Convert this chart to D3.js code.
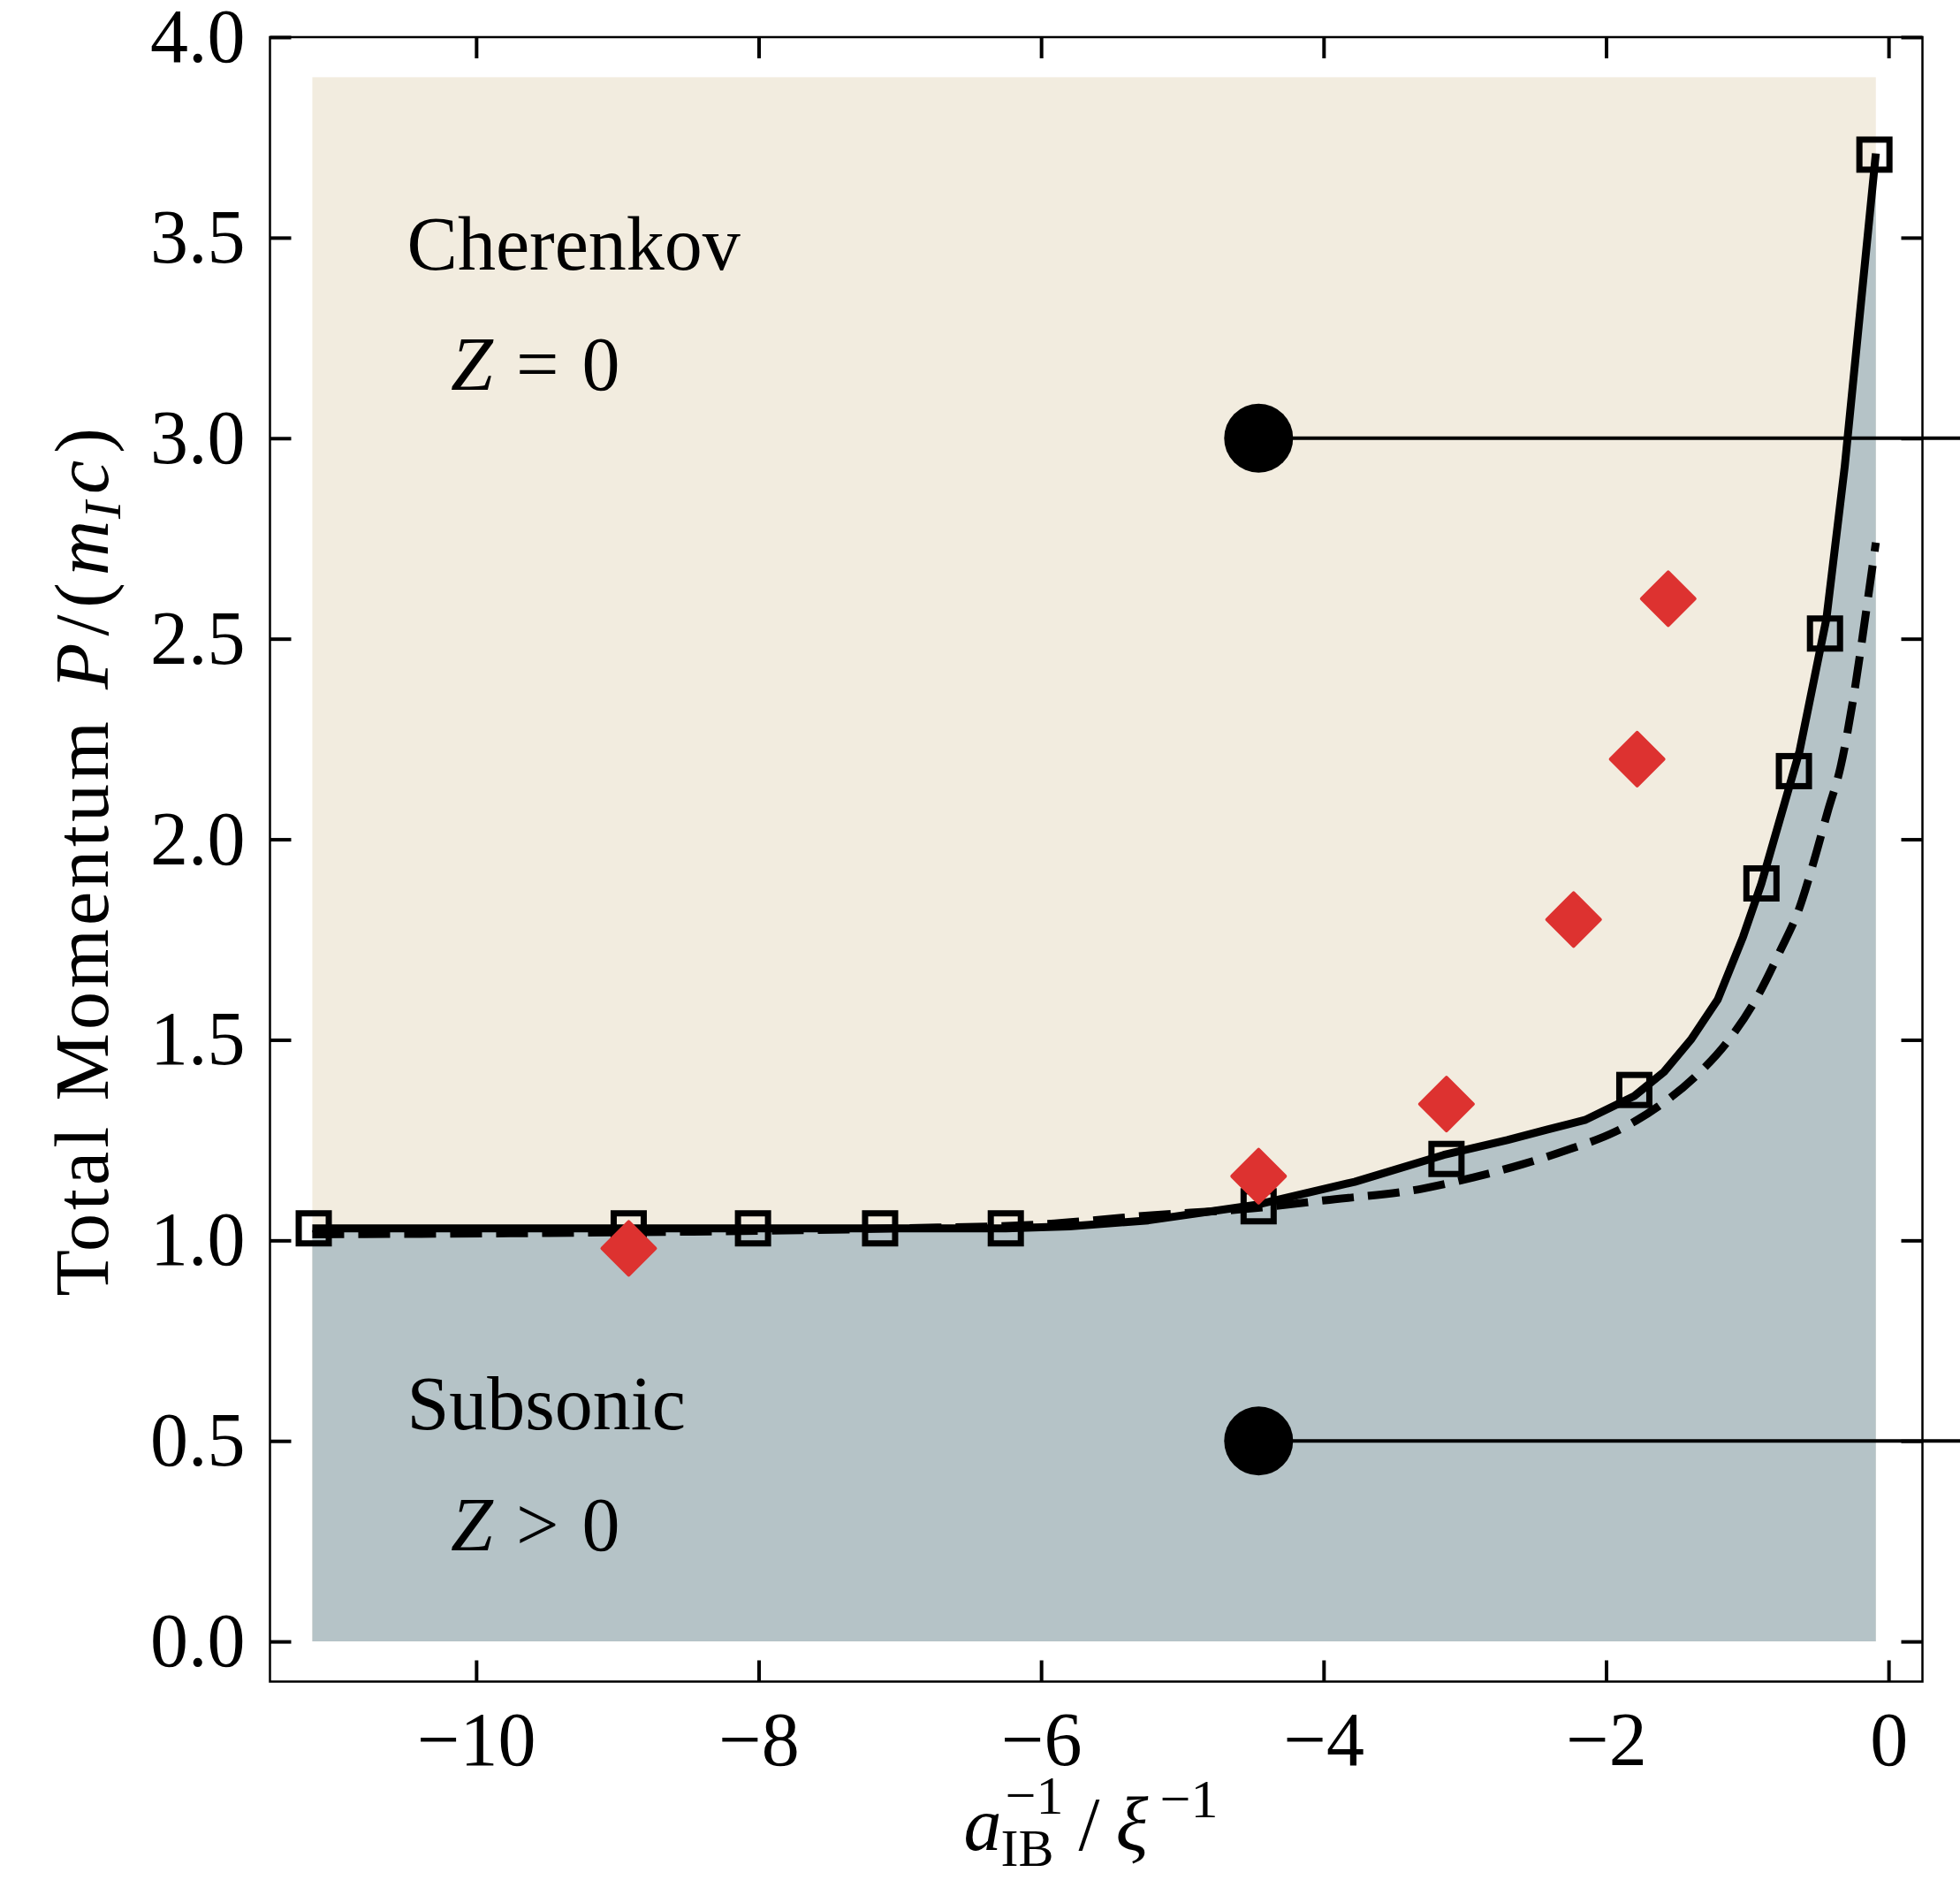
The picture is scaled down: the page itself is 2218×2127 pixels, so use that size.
<!DOCTYPE html>
<html>
<head>
<meta charset="utf-8">
<script src="https://cdn.jsdelivr.net/npm/d3@7"></script>
<style>
  html, body { margin: 0; padding: 0; background: #fff; }
  svg { display: block; }
</style>
</head>
<body>
<div id="chart"></div>
<script>
// boundary curve (solid) and approximation (dashed)
const solidX = [-11.16, -10, -9, -8, -7, -6.25, -5.8, -5.24, -4.47, -3.78, -3.15, -2.7, -2.42, -2.15, -1.80, -1.59, -1.40, -1.21, -1.03, -0.90, -0.63, -0.44, -0.31, -0.09];
const solidY = [1.03, 1.03, 1.03, 1.03, 1.03, 1.03, 1.035, 1.05, 1.089, 1.146, 1.213, 1.25, 1.276, 1.30, 1.36, 1.42, 1.50, 1.60, 1.757, 1.89, 2.22, 2.55, 2.93, 3.71];

const dashX = [-11.16, -9, -7, -6, -5.24, -4.5, -3.99, -3.30, -2.94, -2.59, -2.27, -1.94, -1.63, -1.36, -1.13, -0.93, -0.77, -0.63, -0.525, -0.43, -0.34, -0.25, -0.15, -0.09];
const dashY = [1.015, 1.02, 1.03, 1.04, 1.062, 1.08, 1.10, 1.129, 1.157, 1.19, 1.226, 1.27, 1.334, 1.411, 1.50, 1.607, 1.72, 1.83, 1.95, 2.07, 2.18, 2.35, 2.59, 2.74];

// open squares
const squareX = [-11.15, -8.92, -8.04, -7.14, -6.25, -4.46, -3.13, -1.80, -0.90, -0.67, -0.45, -0.10];
const squareY = [1.03, 1.03, 1.03, 1.03, 1.03, 1.085, 1.203, 1.375, 1.89, 2.17, 2.513, 3.707];

// red diamonds
const diamondX = [-8.92, -4.46, -3.13, -2.23, -1.78, -1.56];
const diamondY = [0.98, 1.16, 1.34, 1.80, 2.20, 2.60];

// black dots with lines going off to the right
const dotX = [-4.46, -4.46];
const dotY = [3.0, 0.5];

const xTicks = [-10, -8, -6, -4, -2, 0];
const yTicks = [0, 0.5, 1, 1.5, 2, 2.5, 3, 3.5, 4];

const W = 2218, H = 2127;
const frame = { left: 305.5, right: 2175.5, top: 42, bottom: 1902.5 };
const FONT = "'Liberation Serif', 'Times New Roman', serif";

const svg = d3.select('#chart').append('svg')
  .attr('width', W).attr('height', H);
svg.append('rect').attr('width', W).attr('height', H).attr('fill', '#fff');

const x = d3.scaleLinear().domain([-11.46, 0.24]).range([frame.left, frame.right]);
const y = d3.scaleLinear().domain([-0.1, 4.0]).range([frame.bottom, frame.top]);

const solid = solidX.map((d, i) => [d, solidY[i]]);
const dashed = dashX.map((d, i) => [d, dashY[i]]);

// regions
svg.append('rect')
  .attr('x', x(-11.16)).attr('y', y(3.9))
  .attr('width', x(-0.09) - x(-11.16)).attr('height', y(0) - y(3.9))
  .attr('fill', '#f2ecdf');

svg.append('path')
  .datum(solid)
  .attr('fill', '#b5c3c7')
  .attr('d', d3.area().x(d => x(d[0])).y0(y(0)).y1(d => y(d[1])));

// lines
svg.append('path')
  .datum(dashed)
  .attr('fill', 'none').attr('stroke', '#000').attr('stroke-width', 9)
  .attr('stroke-dasharray', '36,16')
  .attr('d', d3.line().curve(d3.curveMonotoneX).x(d => x(d[0])).y(d => y(d[1])));

svg.append('path')
  .datum(solid)
  .attr('fill', 'none').attr('stroke', '#000').attr('stroke-width', 9)
  .attr('stroke-linejoin', 'round')
  .attr('d', d3.line().x(d => x(d[0])).y(d => y(d[1])));

// squares
svg.append('g').selectAll('rect')
  .data(squareX.map((d, i) => [d, squareY[i]]))
  .join('rect')
  .attr('x', d => x(d[0]) - 17).attr('y', d => y(d[1]) - 17)
  .attr('width', 34).attr('height', 34)
  .attr('fill', 'none').attr('stroke', '#000').attr('stroke-width', 7);

// diamonds
svg.append('g').selectAll('path')
  .data(diamondX.map((d, i) => [d, diamondY[i]]))
  .join('path')
  .attr('transform', d => `translate(${x(d[0])},${y(d[1])})`)
  .attr('d', 'M0,-30L30,0L0,30L-30,0Z')
  .attr('fill', '#dd3230').attr('stroke', '#dd3230')
  .attr('stroke-width', 4).attr('stroke-linejoin', 'round');

// dots and horizontal lines
const dots = dotX.map((d, i) => [d, dotY[i]]);
svg.append('g').selectAll('line')
  .data(dots)
  .join('line')
  .attr('x1', d => x(d[0])).attr('x2', x(1.0))
  .attr('y1', d => y(d[1])).attr('y2', d => y(d[1]))
  .attr('stroke', '#000').attr('stroke-width', 4);
svg.append('g').selectAll('circle')
  .data(dots)
  .join('circle')
  .attr('cx', d => x(d[0])).attr('cy', d => y(d[1])).attr('r', 39)
  .attr('fill', '#000');

// axes with inward ticks on all sides
function styleAxis(g) {
  g.select('.domain').remove();
  g.selectAll('.tick line').attr('stroke', '#000').attr('stroke-width', 4);
  g.selectAll('.tick text')
    .attr('fill', '#000')
    .style('font-family', FONT)
    .style('font-size', '86px');
}

svg.append('g')
  .attr('transform', `translate(0,${frame.bottom})`)
  .call(d3.axisBottom(x).tickValues(xTicks).tickSize(-24).tickPadding(33)
    .tickFormat(d => d < 0 ? '\u2212' + Math.abs(d) : String(d)))
  .call(styleAxis);

svg.append('g')
  .attr('transform', `translate(0,${frame.top})`)
  .call(d3.axisTop(x).tickValues(xTicks).tickSize(-24).tickFormat(''))
  .call(styleAxis);

svg.append('g')
  .attr('transform', `translate(${frame.left},0)`)
  .call(d3.axisLeft(y).tickValues(yTicks).tickSize(-24).tickPadding(28)
    .tickFormat(d3.format('.1f')))
  .call(styleAxis);

svg.append('g')
  .attr('transform', `translate(${frame.right},0)`)
  .call(d3.axisRight(y).tickValues(yTicks).tickSize(-24).tickFormat(''))
  .call(styleAxis);

svg.append('rect')
  .attr('x', frame.left).attr('y', frame.top)
  .attr('width', frame.right - frame.left).attr('height', frame.bottom - frame.top)
  .attr('fill', 'none').attr('stroke', '#000').attr('stroke-width', 2.5);

// region labels
function label(xv, yv) {
  return svg.append('text')
    .attr('x', x(xv)).attr('y', y(yv))
    .style('font-family', FONT).style('font-size', '86px');
}
label(-10.49, 3.42).text('Cherenkov');
const z0 = label(-10.18, 3.12);
z0.append('tspan').style('font-style', 'italic').text('Z');
z0.append('tspan').attr('dx', 26).text('=');
z0.append('tspan').attr('dx', 26).text('0');
label(-10.49, 0.53).text('Subsonic');
const z1 = label(-10.18, 0.227);
z1.append('tspan').style('font-style', 'italic').text('Z');
z1.append('tspan').attr('dx', 26).text('>');
z1.append('tspan').attr('dx', 26).text('0');

// x axis label, pieces placed around the axes centre
const cx = (frame.left + frame.right) / 2;
function xPiece(dx, yy, size, txt, italic) {
  svg.append('text')
    .attr('x', cx + dx).attr('y', yy)
    .style('font-family', FONT).style('font-size', size + 'px')
    .style('font-style', italic ? 'italic' : 'normal')
    .text(txt);
}
xPiece(-150, 2093, 86, 'a', true);
xPiece(-103, 2052, 62, '\u22121', false);
xPiece(-108, 2111, 60, 'IB', false);
xPiece(-20, 2093, 86, '/', false);
xPiece(22, 2093, 86, '\u03be', true);
xPiece(72, 2056, 62, '\u22121', false);

// y axis label
const yl = svg.append('text')
  .attr('transform', `translate(122,${(frame.top + frame.bottom) / 2 + 3}) rotate(-90)`)
  .attr('text-anchor', 'middle')
  .style('font-family', FONT).style('font-size', '86px');
yl.append('tspan').style('letter-spacing', '4px').text('Total Momentum');
yl.append('tspan').attr('dx', 32).style('font-style', 'italic').style('letter-spacing', '8px').text('P');
yl.append('tspan').style('letter-spacing', '8px').text('/(');
yl.append('tspan').style('font-style', 'italic').style('letter-spacing', '2px').text('m');
yl.append('tspan').attr('dy', 14).style('font-size', '60px').style('font-style', 'italic').style('letter-spacing', '8px').text('I');
yl.append('tspan').attr('dy', -14).style('font-style', 'italic').style('letter-spacing', '8px').text('c');
yl.append('tspan').text(')');
</script>
</body>
</html>
